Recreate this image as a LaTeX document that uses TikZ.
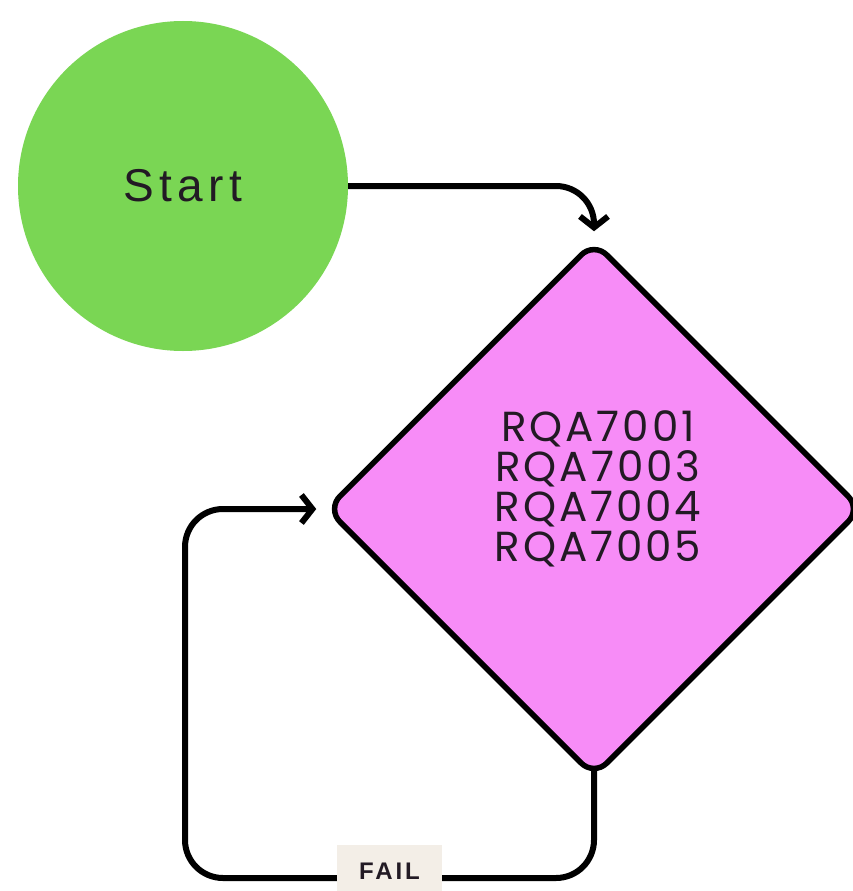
\documentclass[tikz,border=0pt]{standalone}
\usepackage{fontspec}
\usepackage{tikz}
\usetikzlibrary{shapes,arrows.meta}
\newfontfamily\codefont[LetterSpace=7]{Poppins}
\newfontfamily\startfont[LetterSpace=12]{Liberation Sans}
\newfontfamily\labelfont[LetterSpace=12]{Liberation Sans}
\definecolor{startgreen}{RGB}{122,214,84}
\definecolor{checkpink}{RGB}{247,140,247}
\definecolor{failbg}{RGB}{243,238,231}
\definecolor{textdark}{RGB}{34,26,36}
\tikzstyle{terminal} = [circle, fill=startgreen, minimum size=330pt, inner sep=0pt,
    font=\startfont\fontsize{46}{46}\selectfont, text=textdark]
\tikzstyle{decision} = [diamond, draw, line width=5.5pt, fill=checkpink,
    minimum width=536pt, minimum height=536pt, inner sep=0pt, rounded corners=18pt]
\tikzstyle{codes} = [align=center, font=\codefont\fontsize{42}{40}\selectfont, text=textdark]
\tikzstyle{tag} = [fill=failbg, sharp corners, minimum width=105pt, minimum height=52pt, inner sep=0pt,
    font=\labelfont\bfseries\fontsize{24}{24}\selectfont, text=textdark]
\tikzstyle{line} = [draw, line width=6pt, rounded corners=38pt,
    -{Straight Barb[length=11pt,width=28pt]}, shorten >=7pt]

\begin{document}
\begin{tikzpicture}[x=1pt, y=-1pt]
    \fill[white] (0,0) rectangle (852,891);
    \useasboundingbox (0,0) rectangle (852,891);
    % Place nodes
    \node [terminal] (start) at (183,186) {Start};
    \node [decision] (check) at (594,509) {};
    \node [codes] (reqs) at (598,489) {RQA7001\\RQA7003\\RQA7004\\RQA7005};
    \coordinate (loopcorner) at (185,878);
    % Draw edges
    \path [line] (start.east) -| (check.north);
    \path [line, shorten <=-9pt] (check.south) |- node [tag, pos=0.75, anchor=north, yshift=36pt] (fail) {FAIL} (loopcorner) |- (check.west);
\end{tikzpicture}
\end{document}
